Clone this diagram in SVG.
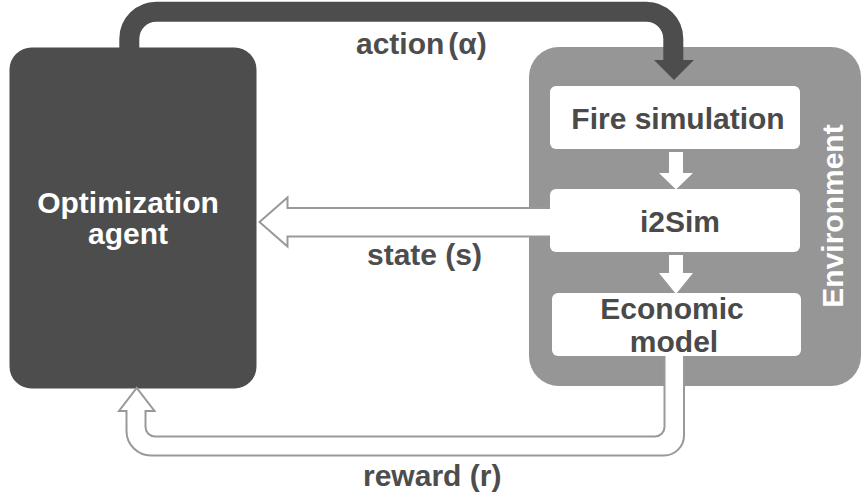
<svg xmlns="http://www.w3.org/2000/svg" width="862" height="499" viewBox="0 0 862 499">
  <style>
    .lbl { font-family: "Liberation Sans", Arial, sans-serif; font-weight: bold; font-size: 30px; fill: #4d4d4d; }
    .box-text { font-family: "Liberation Sans", Arial, sans-serif; font-weight: bold; font-size: 30px; fill: #4a4a4a; text-anchor: middle; }
    .inv-text { font-family: "Liberation Sans", Arial, sans-serif; font-weight: bold; font-size: 30px; fill: #ffffff; text-anchor: middle; }
    .inner { fill: #ffffff; }
    .hollow { fill: #ffffff; stroke: #999999; stroke-width: 2; stroke-linejoin: miter; }
  </style>
  <rect width="862" height="499" fill="#ffffff"/>

  <!-- agent node -->
  <g id="agent">
    <rect x="9.5" y="47.5" width="247" height="341" rx="22" fill="#4d4d4d"/>
    <text class="inv-text" x="128" y="213">Optimization</text>
    <text class="inv-text" x="128" y="244">agent</text>
  </g>

  <!-- environment container -->
  <g id="environment">
    <rect x="529" y="47" width="332" height="339" rx="30" fill="#969696"/>
    <text class="inv-text" transform="translate(843,216) rotate(-90)">Environment</text>
  </g>

  <!-- connectors -->
  <g id="connectors">
    <!-- action: agent -> environment -->
    <path d="M129.3 48 V38.7 A27 27 0 0 1 156.3 11.7 H646.3 A27 27 0 0 1 673.3 38.7 V61" fill="none" stroke="#4d4d4d" stroke-width="20"/>
    <polygon points="654,60 694,60 674,80" fill="#4d4d4d"/>
    <text class="lbl" x="356" y="54">action<tspan dx="4">(α)</tspan></text>

    <!-- state: i2Sim -> agent -->
    <polygon class="hollow" points="259.5,222 287.5,197.5 287.5,208 553,208 553,236.5 287.5,236.5 287.5,246.5"/>
    <text class="lbl" x="367" y="265">state (s)</text>

    <!-- reward: economic model -> agent -->
    <path class="hollow" d="M664.5 350 V427 A9.5 9.5 0 0 1 655 436.5 H155 A9.5 9.5 0 0 1 145.5 427 V411 H154.5 L136.7 388 L119 411 H126.5 V431 A24.5 24.5 0 0 0 151 455.5 H664 A20 20 0 0 0 684 435.5 V350 Z"/>
    <text class="lbl" x="363" y="486">reward (r)</text>

    <!-- internal flow arrows -->
    <polygon class="inner" points="669,152 683,152 683,173 693,173 676,189.5 659,173 669,173"/>
    <polygon class="inner" points="669,255 683,255 683,273 693,273 676,294 659,273 669,273"/>
  </g>

  <g id="fire-simulation">
    <rect x="550" y="86" width="250" height="63" rx="6" fill="#ffffff"/>
    <text class="box-text" x="678" y="129">Fire simulation</text>
  </g>

  <g id="i2sim">
    <rect x="550" y="189" width="250" height="63" rx="6" fill="#ffffff"/>
    <text class="box-text" x="680" y="232">i2Sim</text>
  </g>

  <g id="economic-model">
    <rect x="552" y="293" width="249" height="63" rx="6" fill="#ffffff"/>
    <text class="box-text" x="672" y="319">Economic</text>
    <text class="box-text" x="674" y="352">model</text>
  </g>
</svg>
